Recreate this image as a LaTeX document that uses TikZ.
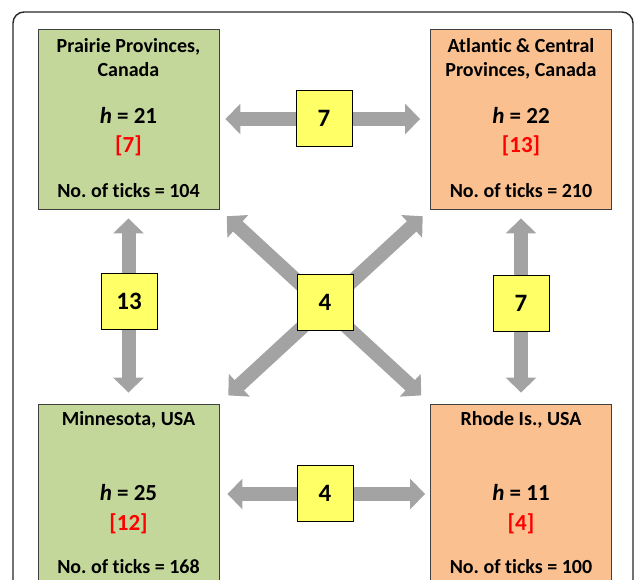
\documentclass[tikz,border=0pt]{standalone}
\usepackage{fontspec}
\setmainfont{Carlito}[Ligatures=NoCommon]
\frenchspacing
\usetikzlibrary{arrows.meta,positioning}
\definecolor{prairie}{HTML}{C4D79B}
\definecolor{atlantic}{HTML}{FAC090}
\definecolor{pad}{HTML}{FFFF66}
\definecolor{shaft}{HTML}{A3A3A3}

\begin{document}
\begin{tikzpicture}[x=1pt, y=-1pt,
  regbox/.style={draw=black!75, line width=0.9pt, minimum width=181pt, minimum height=180pt, inner sep=0pt},
  numbox/.style={draw=black, fill=pad, line width=0.9pt, minimum size=56pt, inner sep=0pt, font=\bfseries\fontsize{25}{28}\selectfont},
  link/.style={draw=shaft, line width=14pt, {Triangle[length=15pt,width=30pt]}-{Triangle[length=15pt,width=30pt]}},
  txt/.style={anchor=base, font=\bfseries\fontsize{20}{24}\selectfont},
  hval/.style={anchor=base, font=\bfseries\fontsize{23}{26}\selectfont},
  hits/.style={hval, text=red}]
  \clip (0,0) rectangle (634,579);
  \useasboundingbox (0,0) rectangle (634,579);
  % outer frame
  \draw[line width=1.4pt, black!85, rounded corners=11pt] (13,620) -- (13,12) -- (633,12) -- (633,620);
  % region boxes
  \node[regbox, fill=prairie] (prairie) at (128.5,119) {};
  \node[regbox, fill=atlantic] (atlantic) at (521,119) {};
  \node[regbox, fill=prairie] (minn) at (128.5,494) {};
  \node[regbox, fill=atlantic] (rhode) at (521,494) {};
  % texts
  \node[txt] (pp1) at (128.5,52) {Prairie Provinces,};
  \node[txt] (pp2) at (128.5,76) {Canada};
  \node[hval] (pph) at (128.5,123) {\textit{h} = 21};
  \node[hits] (ppr) at (128.5,152) {[7]};
  \node[txt] (ppn) at (128.5,197) {No. of ticks = 104};
  \node[txt] (ac1) at (521,52) {Atlantic \& Central};
  \node[txt] (ac2) at (521,76) {Provinces, Canada};
  \node[hval] (ach) at (521,123) {\textit{h} = 22};
  \node[hits] (acr) at (521,152) {[13]};
  \node[txt] (acn) at (521,197) {No. of ticks = 210};
  \node[txt] (mn1) at (128.5,425) {Minnesota, USA};
  \node[hval] (mnh) at (128.5,500) {\textit{h} = 25};
  \node[hits] (mnr) at (128.5,530) {[12]};
  \node[txt] (mnn) at (128.5,573) {No. of ticks = 168};
  \node[txt] (ri1) at (521,425) {Rhode Is., USA};
  \node[hval] (rih) at (521,500) {\textit{h} = 11};
  \node[hits] (rir) at (521,530) {[4]};
  \node[txt] (rin) at (521,573) {No. of ticks = 100};
  % connectors
  \draw[link, shorten <=6pt, shorten >=10pt] (prairie.east) -- (atlantic.west);
  \draw[link, shorten <=8pt, shorten >=5pt] (minn.east) -- (rhode.west);
  \draw[link, shorten <=9pt, shorten >=11pt] (prairie.south) -- (minn.north);
  \draw[link, shorten <=9pt, shorten >=11pt] (atlantic.south) -- (rhode.north);
  \draw[link, shorten <=10pt, shorten >=12pt] (prairie.south east) -- (rhode.north west);
  \draw[link, shorten <=10pt, shorten >=12pt] (atlantic.south west) -- (minn.north east);
  % link counts
  \node[numbox] (top) at (324,118) {7};
  \node[numbox] (mid) at (325,302) {4};
  \node[numbox] (lft) at (129,301) {13};
  \node[numbox] (rgt) at (521,303) {7};
  \node[numbox] (bot) at (325,493) {4};
\end{tikzpicture}
\end{document}
